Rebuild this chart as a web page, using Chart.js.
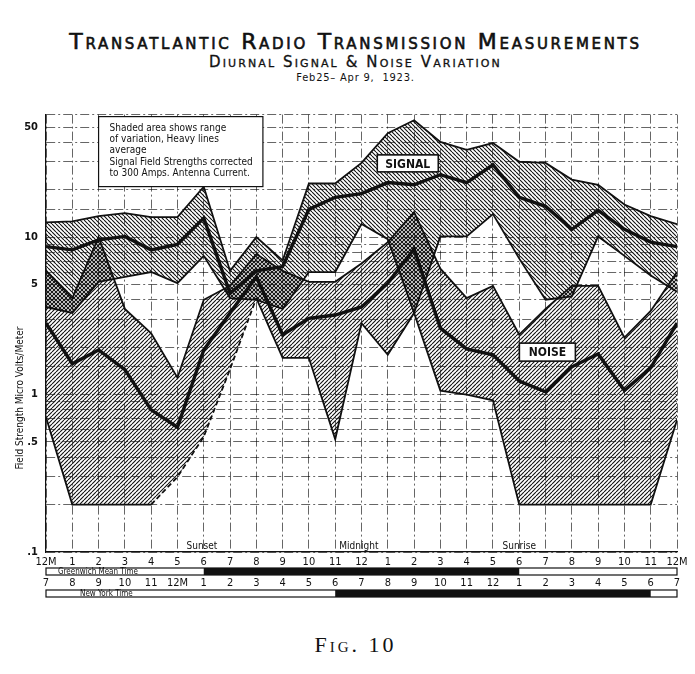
<!DOCTYPE html>
<html>
<head>
<meta charset="utf-8">
<title>Transatlantic Radio Transmission Measurements</title>
<script src="https://cdn.jsdelivr.net/npm/chart.js@4.4.1/dist/chart.umd.min.js"></script>
<style>
  html, body { margin: 0; padding: 0; background: #fff; }
  body { width: 695px; height: 674px; position: relative; overflow: hidden; color: #111; font-family: 'DejaVu Sans', sans-serif; }
  .head { position: absolute; left: 8px; width: 695px; text-align: center; white-space: nowrap; font-variant: small-caps; }
  #t1 { top: 31px; font-size: 22px; line-height: 22px; letter-spacing: 2.7px; -webkit-text-stroke: 0.6px #111; }
  #t2 { top: 55px; font-size: 15px; line-height: 15px; letter-spacing: 2.1px; -webkit-text-stroke: 0.3px #111; }
  #t3 { top: 72px; font-size: 11px; line-height: 11px; letter-spacing: 0.8px; font-family: 'DejaVu Sans Condensed', sans-serif; font-variant: normal; }
  #fig { top: 634px; font-family: 'Liberation Serif', serif; font-size: 22px; line-height: 22px; letter-spacing: 3px; }
  #wrap { position: absolute; left: 0; top: 100px; width: 695px; height: 510px; }
</style>
</head>
<body>
<div class="head" id="t1">Transatlantic Radio Transmission Measurements</div>
<div class="head" id="t2">Diurnal Signal &amp; Noise Variation</div>
<div class="head" id="t3">Feb25– Apr 9,&nbsp; 1923.</div>
<div id="wrap"><canvas id="grafico"></canvas></div>
<div class="head" id="fig">Fig. 10</div>

<script>
// hours, Greenwich Mean Time
const hours = [0, 1, 2, 3, 4, 5, 6, 7, 8, 9, 10, 11, 12, 13, 14, 15, 16, 17, 18, 19, 20, 21, 22, 23, 24];
const gmtLabels = ['12M', '1', '2', '3', '4', '5', '6', '7', '8', '9', '10', '11', '12', '1', '2', '3', '4', '5', '6', '7', '8', '9', '10', '11', '12M'];
const nyLabels = ['7', '8', '9', '10', '11', '12M', '1', '2', '3', '4', '5', '6', '7', '8', '9', '10', '11', '12', '1', '2', '3', '4', '5', '6', '7'];

// micro volts / meter
const signalHigh = [12.4, 12.6, 13.6, 14.2, 13.4, 13.4, 20.9, 6.1, 10.0, 7.1, 21.9, 21.9, 29.6, 45.7, 55.2, 40.2, 35.8, 39.6, 30.1, 29.6, 23.2, 21.5, 16.1, 13.6, 12.1];
const signalAvg = [8.7, 8.3, 9.6, 10.1, 8.3, 9.0, 13.2, 4.4, 6.1, 6.5, 15.0, 17.9, 18.9, 22.2, 21.5, 24.9, 22.2, 28.8, 17.9, 15.7, 11.2, 14.8, 11.2, 9.3, 8.7];
const signalLow = [3.6, 3.3, 5.2, 5.6, 6.0, 5.1, 7.6, 4.1, 4.0, 3.5, 6.0, 6.0, 12.1, 9.7, 3.3, 10.1, 10.1, 14.0, 7.3, 4.0, 4.2, 10.1, 7.6, 5.7, 4.5];
const noiseHigh = [6.1, 4.1, 10.0, 3.5, 2.45, 1.28, 4.0, 4.9, 7.8, 6.1, 5.2, 5.2, 6.8, 9.3, 14.4, 6.3, 4.1, 4.9, 2.4, 3.5, 4.9, 4.9, 2.3, 3.4, 6.0];
const noiseAvg = [2.84, 1.57, 1.92, 1.44, 0.80, 0.62, 1.92, 3.3, 5.6, 2.4, 3.05, 3.2, 3.6, 5.1, 8.4, 2.64, 1.95, 1.79, 1.22, 1.04, 1.50, 1.81, 1.06, 1.48, 2.84];
const noiseLow = [0.72, 0.2, 0.2, 0.2, 0.2, 0.30, 0.54, 1.45, 4.1, 1.71, 1.71, 0.52, 2.84, 1.79, 3.3, 1.06, 1.0, 0.92, 0.2, 0.2, 0.2, 0.2, 0.2, 0.2, 0.69];

const yTickValues = [50, 10, 5, 1, 0.5, 0.1];
const yTickLabels = ['50', '10', '5', '1', '.5', '.1'];

// dark part of the time bars (GMT hours)
const gmtNight = [6, 18];
const nyNight = [11, 23];

const notes = ['Shaded area shows range', 'of variation, Heavy lines', 'average', 'Signal Field Strengths corrected', 'to 300 Amps. Antenna Current.'];

function hatch(back) {
  const s = 4;
  const c = document.createElement('canvas');
  c.width = s; c.height = s;
  const g = c.getContext('2d');
  g.strokeStyle = '#111';
  g.lineWidth = 1.1;
  g.beginPath();
  for (let k = -1; k <= 1; k++) {
    if (back) { g.moveTo(k * s, 0); g.lineTo(k * s + s, s); }
    else { g.moveTo(k * s, s); g.lineTo(k * s + s, 0); }
  }
  g.stroke();
  return g.createPattern(c, 'repeat');
}

const pts = arr => hours.map((h, i) => ({ x: h, y: arr[i] }));
const line = (label, arr, w, extra) => Object.assign({
  label: label, data: pts(arr), borderColor: '#111', borderWidth: w,
  pointRadius: 0, tension: 0, fill: false
}, extra || {});

const FONT = "'DejaVu Sans Condensed', 'DejaVu Sans', sans-serif";

const extras = {
  id: 'extras',
  afterDatasetsDraw(chart) {
    const { ctx, chartArea: a, scales: { x, y } } = chart;
    ctx.save();
    // note box
    const bx = x.getPixelForValue(2), bw = x.getPixelForValue(8.25) - bx;
    ctx.fillStyle = '#fff';
    ctx.strokeStyle = '#111';
    ctx.lineWidth = 1.2;
    ctx.fillRect(bx, a.top + 2, bw, 70);
    ctx.strokeRect(bx, a.top + 2, bw, 70);
    ctx.fillStyle = '#111';
    ctx.font = '10px ' + FONT;
    ctx.textAlign = 'left';
    ctx.textBaseline = 'alphabetic';
    const base = [16, 27, 38, 50, 61];
    notes.forEach((t, i) => ctx.fillText(t, bx + 11, a.top + base[i]));

    // series tags
    const tag = (text, h, v, w, ht) => {
      const cx = x.getPixelForValue(h), cy = y.getPixelForValue(v);
      ctx.fillStyle = '#fff';
      ctx.fillRect(cx - w / 2, cy - ht / 2, w, ht);
      ctx.lineWidth = 1.6;
      ctx.strokeRect(cx - w / 2, cy - ht / 2, w, ht);
      ctx.fillStyle = '#111';
      ctx.font = 'bold 12px ' + FONT;
      ctx.textAlign = 'center';
      ctx.textBaseline = 'middle';
      ctx.fillText(text, cx, cy + 1);
    };
    tag('SIGNAL', 13.76, 29.4, 61, 17);
    tag('NOISE', 19.07, 1.86, 56, 18);

    // sun marks
    ctx.font = '10px ' + FONT;
    ctx.textAlign = 'center';
    ctx.textBaseline = 'middle';
    ctx.fillText('Sunset', x.getPixelForValue(5.93), a.bottom - 6);
    ctx.fillText('Midnight', x.getPixelForValue(11.9), a.bottom - 6);
    ctx.fillText('Sunrise', x.getPixelForValue(18), a.bottom - 6);
    ctx.restore();
  },
  afterDraw(chart) {
    const { ctx, chartArea: a, scales: { x, y } } = chart;
    ctx.save();
    ctx.strokeStyle = '#111';
    ctx.fillStyle = '#111';
    ctx.lineWidth = 1.2;
    const x0 = x.getPixelForValue(0), x1 = x.getPixelForValue(24);

    const bar = (top, night, text, tx) => {
      ctx.strokeRect(x0, top, x1 - x0, 7);
      const n0 = x.getPixelForValue(night[0]), n1 = x.getPixelForValue(night[1]);
      ctx.fillRect(n0, top, n1 - n0, 7);
      ctx.font = '8px ' + FONT;
      ctx.textAlign = 'left';
      ctx.textBaseline = 'middle';
      ctx.fillText(text, x0 + tx, top + 4);
    };
    bar(a.bottom + 16, gmtNight, 'Greenwich Mean Time', 12);
    bar(a.bottom + 38, nyNight, 'New York Time', 34);

    ctx.font = '11px ' + FONT;
    ctx.textAlign = 'center';
    ctx.textBaseline = 'middle';
    hours.forEach((h, i) => ctx.fillText(nyLabels[i], x.getPixelForValue(h), a.bottom + 31));

    // axis title
    ctx.translate(20, y.getPixelForValue(0.95));
    ctx.rotate(-Math.PI / 2);
    ctx.font = '10px ' + FONT;
    ctx.fillText('Field Strength Micro Volts/Meter', 0, 0);
    ctx.restore();
  }
};

const ctx = document.getElementById('grafico').getContext('2d');

const grafico = new Chart(ctx, {
  type: 'line',
  data: {
    datasets: [
      line('Signal, highest', signalHigh, 1.8, { fill: 1, backgroundColor: hatch(true) }),
      line('Signal, lowest', signalLow, 1.8),
      line('Signal, average', signalAvg, 3.4),
      line('Noise, highest', noiseHigh, 1.8, { fill: 4, backgroundColor: hatch(false) }),
      line('Noise, lowest', noiseLow, 1.8, {
        segment: { borderDash: c => (c.p0.parsed.x >= 4 && c.p1.parsed.x <= 8 ? [5, 3] : undefined) }
      }),
      line('Noise, average', noiseAvg, 3.4)
    ]
  },
  options: {
    responsive: true,
    maintainAspectRatio: false,
    animation: false,
    layout: { padding: { left: 0, right: 18, top: 13, bottom: 10 } },
    plugins: { legend: { display: false }, tooltip: { enabled: false } },
    scales: {
      x: {
        type: 'linear',
        min: 0,
        max: 24,
        afterFit: s => { s.height = 48; },
        grid: { color: 'rgba(0,0,0,0.6)', lineWidth: 1, drawTicks: false },
        border: { color: '#111', width: 1.2, dash: [9, 3, 2, 3] },
        ticks: {
          stepSize: 1,
          autoSkip: false,
          maxRotation: 0,
          padding: 4,
          color: '#111',
          font: { family: FONT, size: 11 },
          callback: v => gmtLabels[v]
        }
      },
      y: {
        type: 'logarithmic',
        min: 0.1,
        max: 60,
        afterFit: s => { s.width = 46; },
        grid: { color: 'rgba(0,0,0,0.6)', lineWidth: 1, drawTicks: false },
        border: { color: '#111', width: 1.2, dash: [9, 3, 2, 3] },
        ticks: {
          autoSkip: false,
          padding: 8,
          color: '#111',
          font: { family: FONT, size: 11, weight: 'bold' },
          callback: v => {
            const i = yTickValues.findIndex(t => Math.abs(t - v) < 1e-6);
            return i >= 0 ? yTickLabels[i] : '';
          }
        }
      }
    }
  },
  plugins: [extras]
});
</script>
</body>
</html>
